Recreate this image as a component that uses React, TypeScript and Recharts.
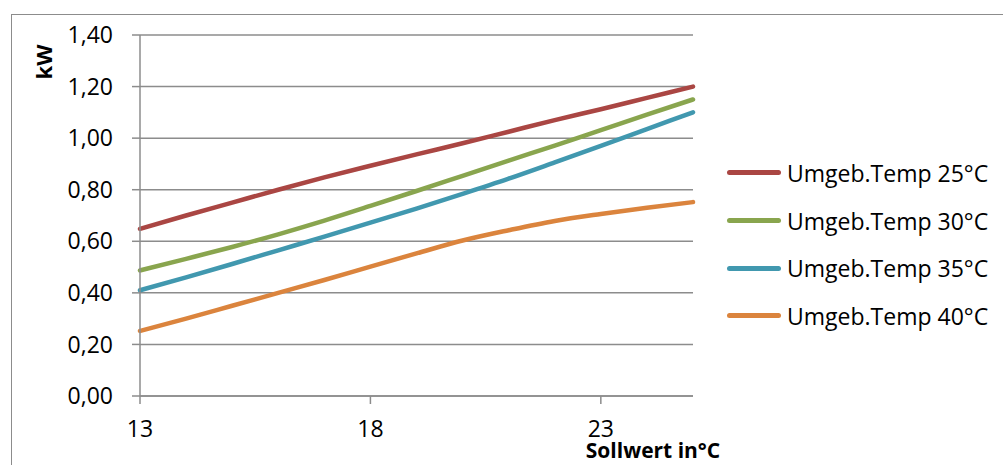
import React from "react";
import {
  LineChart,
  Line,
  XAxis,
  YAxis,
  CartesianGrid,
} from "recharts";

// Sollwert (°C) on the x axis
const sollwert = [13, 14, 15, 16, 17, 18, 19, 20, 21, 22, 23, 24, 25];

// power (kW) per ambient temperature
const temp25 = [0.648, 0.7, 0.75, 0.8, 0.848, 0.893, 0.937, 0.98, 1.025, 1.07, 1.112, 1.156, 1.2];
const temp30 = [0.487, 0.532, 0.578, 0.627, 0.68, 0.737, 0.795, 0.854, 0.913, 0.971, 1.031, 1.091, 1.15];
const temp35 = [0.41, 0.46, 0.512, 0.565, 0.618, 0.672, 0.727, 0.784, 0.843, 0.906, 0.97, 1.035, 1.1];
const temp40 = [0.252, 0.3, 0.35, 0.4, 0.45, 0.502, 0.553, 0.603, 0.643, 0.679, 0.706, 0.73, 0.752];

const yTicks = [0, 0.2, 0.4, 0.6, 0.8, 1.0, 1.2, 1.4];
const xTicks = [13, 18, 23];

const SERIES = [
  { key: "Umgeb.Temp 25°C", values: temp25, color: "#AA4643" },
  { key: "Umgeb.Temp 30°C", values: temp30, color: "#89A54E" },
  { key: "Umgeb.Temp 35°C", values: temp35, color: "#4198AF" },
  { key: "Umgeb.Temp 40°C", values: temp40, color: "#DB843D" },
];

const data = sollwert.map((s, i) => {
  const row: any = { sollwert: s };
  SERIES.forEach((ser) => (row[ser.key] = ser.values[i]));
  return row;
});

const FONT = "'Open Sans', sans-serif";
const GRID = "#8c8c8c";

function LegendBox() {
  return (
    <div
      style={{
        position: "absolute",
        left: 727,
        top: 149,
        fontFamily: FONT,
        fontSize: 23,
        color: "#000",
      }}
    >
      {SERIES.map((s) => (
        <div
          key={s.key}
          style={{ display: "flex", alignItems: "center", height: 47.7 }}
        >
          <div
            style={{
              width: 54,
              height: 5,
              borderRadius: 3,
              background: s.color,
              marginRight: 6,
            }}
          />
          <span style={{ whiteSpace: "nowrap" }}>{s.key}</span>
        </div>
      ))}
    </div>
  );
}

export default function App() {
  return (
    <div
      style={{
        position: "fixed",
        left: 0,
        top: 0,
        width: 1003,
        height: 465,
        overflow: "hidden",
        background: "#fff",
      }}
    >
      <div
        style={{
          position: "absolute",
          left: 11,
          top: 14,
          width: 1100,
          height: 600,
          border: "1.5px solid #8c8c8c",
          boxSizing: "border-box",
        }}
      />
      <div style={{ position: "absolute", left: 0, top: 0 }}>
        <LineChart
          width={1003}
          height={465}
          data={data}
          margin={{ top: 35, right: 310, bottom: 0, left: 0 }}
        >
          <CartesianGrid horizontal vertical={false} stroke={GRID} strokeWidth={1.5} />
          <XAxis
            dataKey="sollwert"
            type="number"
            domain={[13, 25]}
            ticks={xTicks}
            height={69}
            tickSize={8}
            tickMargin={17}
            axisLine={{ stroke: GRID, strokeWidth: 1.5 }}
            tickLine={{ stroke: GRID, strokeWidth: 1.5 }}
            tick={{ fill: "#000", fontSize: 23, fontFamily: FONT }}
            label={{
              content: () => (
                <text
                  x={653}
                  y={458}
                  textAnchor="middle"
                  fontFamily={FONT}
                  fontWeight="bold"
                  fontSize={21}
                  fill="#000"
                >
                  Sollwert in°C
                </text>
              ),
            }}
          />
          <YAxis
            domain={[0, 1.4]}
            ticks={yTicks}
            interval={0}
            width={140}
            tickSize={8}
            tickMargin={19}
            axisLine={{ stroke: GRID, strokeWidth: 1.5 }}
            tickLine={{ stroke: GRID, strokeWidth: 1.5 }}
            tick={{ fill: "#000", fontSize: 23, fontFamily: FONT }}
            tickFormatter={(v: number) => v.toFixed(2).replace(".", ",")}
            label={{
              content: () => (
                <text
                  x={52}
                  y={62}
                  textAnchor="middle"
                  transform="rotate(-90 52 62)"
                  fontFamily={FONT}
                  fontWeight="bold"
                  fontSize={22}
                  fill="#000"
                >
                  kW
                </text>
              ),
            }}
          />
          {SERIES.map((s) => (
            <Line
              key={s.key}
              type="monotone"
              dataKey={s.key}
              stroke={s.color}
              strokeWidth={4.5}
              strokeLinecap="round"
              dot={false}
              isAnimationActive={false}
            />
          ))}
        </LineChart>
      </div>
      <LegendBox />
    </div>
  );
}
